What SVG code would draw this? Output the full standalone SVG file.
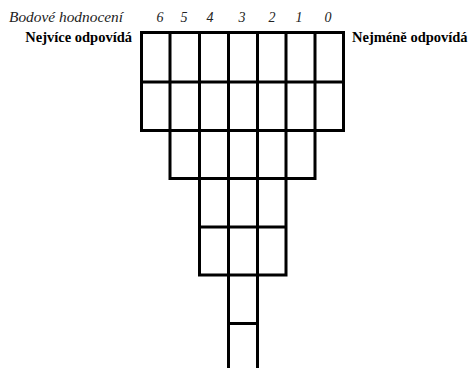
<svg xmlns="http://www.w3.org/2000/svg" width="473" height="368" viewBox="0 0 473 368">
<rect width="473" height="368" fill="#fff"/>
<text font-family="Liberation Serif" font-size="14" font-style="italic" fill="#222" x="9" y="22" textLength="114" lengthAdjust="spacingAndGlyphs">Bodové hodnocení</text>
<text font-family="Liberation Serif" font-size="14" font-style="italic" fill="#222" text-anchor="middle" x="160" y="22">6</text>
<text font-family="Liberation Serif" font-size="14" font-style="italic" fill="#222" text-anchor="middle" x="184" y="22">5</text>
<text font-family="Liberation Serif" font-size="14" font-style="italic" fill="#222" text-anchor="middle" x="210" y="22">4</text>
<text font-family="Liberation Serif" font-size="14" font-style="italic" fill="#222" text-anchor="middle" x="242" y="22">3</text>
<text font-family="Liberation Serif" font-size="14" font-style="italic" fill="#222" text-anchor="middle" x="272" y="22">2</text>
<text font-family="Liberation Serif" font-size="14" font-style="italic" fill="#222" text-anchor="middle" x="299" y="22">1</text>
<text font-family="Liberation Serif" font-size="14" font-style="italic" fill="#222" text-anchor="middle" x="328" y="22">0</text>
<text font-family="Liberation Serif" font-size="14.5" font-weight="bold" fill="#000" x="132" y="42" text-anchor="end">Nejvíce odpovídá</text>
<text font-family="Liberation Serif" font-size="14.5" font-weight="bold" fill="#000" x="352" y="42">Nejméně odpovídá</text>
<g id="grid" fill="none" stroke="#000" stroke-width="3" stroke-linecap="square">
<path d="M141.5 32.5H343.5V130.5H141.5Z M141.5 82H343.5 M170 32.5V178.5 M199.5 32.5V275 M228.5 32.5V370 M257.5 32.5V370 M286 32.5V275 M315 32.5V178.5 M170 178.5H315 M199.5 227H286 M199.5 275H286 M228.5 323.5H257.5"/>
</g>
</svg>
